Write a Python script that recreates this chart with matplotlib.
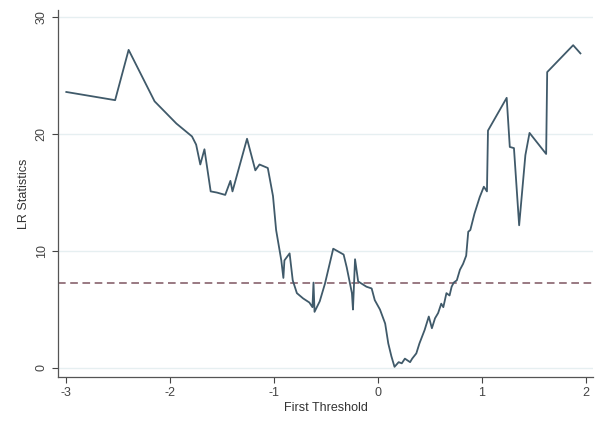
import numpy as np
import matplotlib.pyplot as plt

# ── Data ──────────────────────────────────────────────────────────────────────
threshold = [-3.00, -2.53, -2.40, -2.15, -1.94, -1.79, -1.75, -1.71, -1.67, -1.61,
             -1.55, -1.47, -1.42, -1.40, -1.26, -1.18, -1.14, -1.06, -1.01, -0.98,
             -0.93, -0.91, -0.90, -0.85, -0.82, -0.78, -0.72, -0.66, -0.63, -0.62,
             -0.61, -0.56, -0.51, -0.43, -0.33, -0.30, -0.25, -0.24, -0.22, -0.19,
             -0.11, -0.06, -0.03, 0.02, 0.07, 0.10, 0.13, 0.16, 0.20, 0.23,
             0.26, 0.31, 0.33, 0.37, 0.40, 0.45, 0.49, 0.52, 0.55, 0.58,
             0.61, 0.63, 0.66, 0.69, 0.71, 0.73, 0.76, 0.79, 0.82, 0.85,
             0.87, 0.89, 0.93, 0.98, 1.02, 1.05, 1.06, 1.24, 1.27, 1.31,
             1.36, 1.42, 1.46, 1.62, 1.63, 1.88, 1.95]
lr_stat = [23.6, 22.9, 27.2, 22.8, 20.9, 19.8, 19.1, 17.4, 18.7, 15.1,
           15.0, 14.8, 16.0, 15.1, 19.6, 16.9, 17.4, 17.1, 14.7, 11.8,
           9.2, 7.7, 9.2, 9.8, 7.5, 6.4, 5.95, 5.6, 5.2, 7.3,
           4.8, 5.7, 7.2, 10.2, 9.7, 8.6, 6.4, 5.0, 9.3, 7.4,
           6.95, 6.8, 5.8, 5.0, 3.8, 2.1, 1.0, 0.1, 0.5, 0.4,
           0.8, 0.5, 0.8, 1.25, 2.1, 3.25, 4.4, 3.4, 4.25, 4.7,
           5.5, 5.2, 6.4, 6.2, 6.95, 7.3, 7.5, 8.4, 8.9, 9.6,
           11.65, 11.8, 13.2, 14.6, 15.5, 15.1, 20.3, 23.1, 18.9, 18.8,
           12.2, 18.2, 20.1, 18.3, 25.3, 27.6, 26.9]
crit_value = 7.3

x_ticks = [-3, -2, -1, 0, 1, 2]
y_ticks = [0, 10, 20, 30]

# ── Plot ──────────────────────────────────────────────────────────────────────
plt.rcParams["font.family"] = "Liberation Sans"
plt.rcParams["axes.unicode_minus"] = False
fig = plt.figure(figsize=(6.01, 4.21), dpi=100)
ax = fig.add_axes([0.0965, 0.1045, 0.89, 0.8715])

for y in y_ticks:
    ax.axhline(y, color="#e6eff1", lw=1.0, zorder=0)
ax.axhline(crit_value, color="#7d5560", lw=1.1, ls=(0, (5, 3)), zorder=2)
ax.plot(threshold, lr_stat, color="#405a6a", lw=1.3, zorder=3)

ax.set_xlim(-3.08, 2.07)
ax.set_ylim(-0.77, 30.6)
ax.set_xticks(x_ticks)
ax.set_yticks(y_ticks)
ax.set_yticklabels([str(v) for v in y_ticks], rotation=90, va="center")
ax.tick_params(colors="#444444", labelsize=9, length=4, width=0.8)
ax.set_xlabel("First Threshold", fontsize=9, color="#333333", labelpad=2)
ax.set_ylabel("LR Statistics", fontsize=9, color="#333333", labelpad=4)

for side in ("top", "right"):
    ax.spines[side].set_visible(False)
for side in ("left", "bottom"):
    ax.spines[side].set_color("#555555")
    ax.spines[side].set_linewidth(0.9)

fig.savefig("out.png", dpi=100)
